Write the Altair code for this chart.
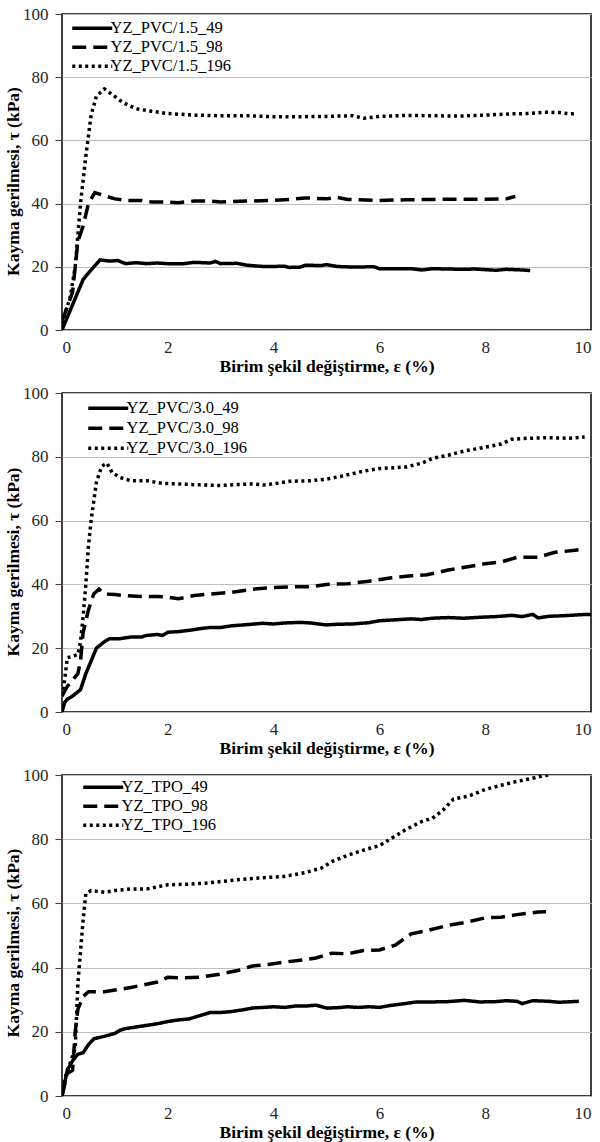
import altair as alt
import pandas as pd

FONT = "Liberation Serif"

X_TICKS = [0, 2, 4, 6, 8, 10]
Y_TICKS = [0, 20, 40, 60, 80, 100]
X_TITLE = "Birim şekil değiştirme, ε (%)"
Y_TITLE = "Kayma gerilmesi, τ (kPa)"

# ---------- Panel 1 : YZ_PVC/1.5 ----------
P1_NAMES = ["YZ_PVC/1.5_49", "YZ_PVC/1.5_98", "YZ_PVC/1.5_196"]
P1_49_X = [0, 0.2, 0.4, 0.55, 0.72, 0.9, 1.05, 1.2, 1.4, 1.6, 1.8, 2.0, 2.3, 2.5, 2.8, 2.9, 3.0, 3.3, 3.5,
           3.8, 4.0, 4.2, 4.3, 4.5, 4.6, 4.9, 5.0, 5.2, 5.5, 5.8, 5.9, 6.0, 6.3, 6.6, 6.8, 7.0, 7.3, 7.6,
           7.8, 8.0, 8.2, 8.4, 8.7, 8.85]
P1_49_Y = [0, 8, 16, 19, 22.2, 21.8, 22, 21, 21.3, 21, 21.2, 21, 21, 21.4, 21.2, 21.7, 21, 21.1, 20.5,
           20.1, 20.1, 20.2, 19.8, 19.9, 20.5, 20.4, 20.7, 20.1, 19.9, 20.0, 20.0, 19.4, 19.4, 19.4, 19,
           19.4, 19.3, 19.2, 19.3, 19.1, 18.9, 19.2, 19.0, 18.8]
P1_98_X = [0, 0.05, 0.2, 0.3, 0.4, 0.5, 0.62, 0.8, 1.0, 1.2, 1.5, 1.7, 2.0, 2.2, 2.5, 2.8, 3.0, 3.5, 4.0,
           4.3, 4.6, 5.0, 5.2, 5.4, 6.0, 6.5, 7.0, 7.5, 8.0, 8.4, 8.57]
P1_98_Y = [3, 5, 12, 28, 33, 40, 43.5, 42.5, 41.5, 41, 41, 40.5, 40.5, 40.3, 40.8, 40.8, 40.5, 40.8, 41,
           41.3, 41.8, 41.5, 42, 41.3, 41, 41.2, 41.3, 41.4, 41.4, 41.5, 42.3]
P1_196_X = [0, 0.05, 0.15, 0.25, 0.3, 0.35, 0.45, 0.55, 0.65, 0.8, 0.95, 1.15, 1.4, 1.7, 2.0, 2.5, 3.0,
            3.5, 4.0, 4.5, 5.0, 5.5, 5.7, 6.0, 6.5, 7.0, 7.5, 8.0, 8.5, 8.8, 9.1, 9.4, 9.6, 9.73]
P1_196_Y = [2, 5, 10, 20, 30, 40, 55, 68, 74, 76.3, 74.5, 72, 70, 69.2, 68.5, 68, 67.8, 67.8, 67.5,
            67.5, 67.6, 67.8, 67, 67.6, 67.9, 67.8, 67.7, 68, 68.4, 68.5, 68.9, 68.8, 68.4, 68.5]

# ---------- Panel 2 : YZ_PVC/3.0 ----------
P2_NAMES = ["YZ_PVC/3.0_49", "YZ_PVC/3.0_98", "YZ_PVC/3.0_196"]
P2_49_X = [0, 0.05, 0.1, 0.2, 0.35, 0.45, 0.55, 0.65, 0.8, 0.9, 1.1, 1.3, 1.5, 1.6, 1.8, 1.9, 2.0, 2.2,
           2.4, 2.6, 2.8, 3.0, 3.2, 3.5, 3.8, 4.0, 4.2, 4.5, 4.7, 5.0, 5.2, 5.5, 5.8, 6.0, 6.3, 6.6, 6.8,
           7.0, 7.3, 7.6, 7.9, 8.2, 8.5, 8.7, 8.9, 9.0, 9.2, 9.5, 9.8, 10.0]
P2_49_Y = [0, 3, 4, 5, 7, 12, 16, 20, 22, 23, 23, 23.5, 23.5, 24, 24.3, 24, 25, 25.2, 25.6, 26.1, 26.5,
           26.5, 27, 27.4, 27.8, 27.6, 27.9, 28.1, 27.9, 27.3, 27.5, 27.6, 28, 28.6, 28.9, 29.2, 29,
           29.4, 29.6, 29.4, 29.7, 29.9, 30.3, 29.9, 30.6, 29.5, 30, 30.2, 30.5, 30.6]
P2_98_X = [0, 0.1, 0.3, 0.35, 0.4, 0.5, 0.6, 0.7, 0.8, 1.0, 1.2, 1.5, 1.8, 2.0, 2.2, 2.5, 2.8, 3.2, 3.6,
           4.0, 4.3, 4.7, 5.0, 5.4, 5.8, 6.2, 6.6, 6.9, 7.3, 7.7, 8.0, 8.3, 8.6, 9.0, 9.3, 9.7, 9.85]
P2_98_Y = [5, 8, 12, 16, 25, 32, 37, 38.5, 37, 36.8, 36.5, 36.2, 36.2, 36, 35.5, 36.5, 37, 37.5, 38.5,
           39, 39.2, 39.3, 40, 40.2, 41, 42, 42.7, 43, 44.5, 45.6, 46.5, 47, 48.5, 48.5, 50, 50.7, 51]
P2_196_X = [0, 0.05, 0.1, 0.2, 0.3, 0.35, 0.4, 0.45, 0.5, 0.55, 0.65, 0.75, 0.85, 0.95, 1.1, 1.3, 1.6,
            1.9, 2.2, 2.6, 3.0, 3.3, 3.6, 3.8, 4.0, 4.3, 4.7, 5.0, 5.3, 5.7, 6.0, 6.5, 6.8, 7.0, 7.3,
            7.6, 8.0, 8.3, 8.5, 8.8, 9.2, 9.6, 9.88]
P2_196_Y = [5, 10, 17, 17.5, 18, 22, 30, 40, 52, 60, 72, 77, 78, 75, 73.5, 72.5, 72.5, 71.7, 71.5, 71.2,
            71, 71.3, 71.5, 71.2, 71.5, 72.3, 72.5, 73, 74, 75.5, 76.3, 76.8, 78, 79.5, 80.5, 81.8, 83,
            84, 85.5, 85.8, 86, 85.8, 86.2]

# ---------- Panel 3 : YZ_TPO ----------
P3_NAMES = ["YZ_TPO_49", "YZ_TPO_98", "YZ_TPO_196"]
P3_49_X = [0, 0.05, 0.1, 0.2, 0.3, 0.4, 0.5, 0.6, 0.8, 1.0, 1.1, 1.2, 1.4, 1.6, 1.8, 2.0, 2.2, 2.4, 2.6,
           2.8, 3.0, 3.2, 3.4, 3.6, 3.8, 4.0, 4.2, 4.4, 4.6, 4.8, 5.0, 5.2, 5.4, 5.6, 5.8, 6.0, 6.2,
           6.4, 6.7, 7.0, 7.3, 7.6, 7.9, 8.2, 8.4, 8.6, 8.7, 8.9, 9.2, 9.4, 9.77]
P3_49_Y = [0, 4, 8, 11, 13, 13.5, 16, 17.8, 18.6, 19.5, 20.5, 21, 21.5, 22, 22.5, 23.2, 23.7, 24, 25,
           26, 26, 26.3, 26.8, 27.4, 27.6, 27.8, 27.6, 28, 28, 28.3, 27.4, 27.5, 27.8, 27.6, 27.8,
           27.6, 28.2, 28.6, 29.3, 29.3, 29.4, 29.8, 29.3, 29.4, 29.7, 29.5, 28.8, 29.7, 29.5, 29.2, 29.5]
P3_98_X = [0, 0.1, 0.2, 0.25, 0.3, 0.4, 0.5, 0.8, 1.0, 1.3, 1.6, 1.8, 2.0, 2.3, 2.6, 3.0, 3.3, 3.6, 3.9,
           4.2, 4.6, 4.8, 5.1, 5.4, 5.7, 6.0, 6.3, 6.6, 6.9, 7.3, 7.6, 8.0, 8.3, 8.6, 9.0, 9.15]
P3_98_Y = [0, 7, 8, 20, 27, 31, 32.5, 32.5, 33, 33.8, 34.8, 35.5, 37, 36.8, 37, 38, 39, 40.5, 41, 41.7,
           42.5, 43, 44.5, 44.3, 45.3, 45.5, 47, 50.5, 51.5, 53.2, 54, 55.5, 55.7, 56.5, 57.3, 57.4]
P3_196_X = [0, 0.05, 0.1, 0.15, 0.25, 0.3, 0.35, 0.4, 0.45, 0.55, 0.8, 1.0, 1.3, 1.6, 2.0, 2.4, 2.7,
            3.0, 3.4, 3.8, 4.2, 4.6, 4.9, 5.1, 5.4, 5.7, 6.0, 6.2, 6.5, 6.8, 7.0, 7.2, 7.4, 7.7, 8.0,
            8.3, 8.6, 8.9, 9.1, 9.2]
P3_196_Y = [0, 5, 8, 10, 15, 35, 45, 55, 63, 64, 63.5, 64, 64.5, 64.5, 65.8, 66, 66.3, 66.8, 67.5, 68,
            68.4, 69.6, 71, 73, 75, 76.6, 78, 80, 83, 85.5, 86.5, 89, 92.5, 93.5, 95.5, 96.8, 98, 99,
            99.8, 100]

DASHES = [[1, 0], [14, 7], [3, 3.5]]


def panel_df(names, xs_list, ys_list):
    rows = []
    for name, xs, ys in zip(names, xs_list, ys_list):
        for i, (x, y) in enumerate(zip(xs, ys)):
            rows.append({"x": x, "y": y, "series": name, "i": i})
    return pd.DataFrame(rows)


def make_panel(df, names, height, legend_x, legend_y, title_shift, row_pad):
    return alt.Chart(df).mark_line(strokeWidth=3.5, color="black", clip=True).encode(
        x=alt.X("x:Q", scale=alt.Scale(domain=[0, 10], nice=False),
                axis=alt.Axis(values=X_TICKS, title=X_TITLE, grid=False, ticks=False,
                              labelPadding=9, titlePadding=2, format="d")),
        y=alt.Y("y:Q", scale=alt.Scale(domain=[0, 100], nice=False),
                axis=alt.Axis(values=Y_TICKS, title=Y_TITLE, grid=True, ticks=True,
                              tickSize=7, labelPadding=7, titlePadding=0,
                              titleY=height / 2 + title_shift, format="d")),
        strokeDash=alt.StrokeDash(
            "series:N",
            scale=alt.Scale(domain=names, range=DASHES),
            legend=alt.Legend(title=None, orient="none", legendX=legend_x, legendY=legend_y,
                              symbolType="M-4,0H4", symbolSize=100, symbolStrokeWidth=3.5,
                              symbolStrokeColor="black", labelOffset=10, padding=0,
                              labelFont=FONT, labelFontSize=16.5, labelColor="black",
                              rowPadding=row_pad, labelLimit=300),
        ),
        order="i:Q",
    ).properties(width=529, height=height)


p1 = make_panel(panel_df(P1_NAMES, [P1_49_X, P1_98_X, P1_196_X], [P1_49_Y, P1_98_Y, P1_196_Y]),
                P1_NAMES, 316, 22, 6, 9, 2)
p2 = make_panel(panel_df(P2_NAMES, [P2_49_X, P2_98_X, P2_196_X], [P2_49_Y, P2_98_Y, P2_196_Y]),
                P2_NAMES, 319, 38, 7, 9, 3)
p3 = make_panel(panel_df(P3_NAMES, [P3_49_X, P3_98_X, P3_196_X], [P3_49_Y, P3_98_Y, P3_196_Y]),
                P3_NAMES, 321, 33, 4, 7, 2)

chart = alt.vconcat(p1, p2, p3, spacing=7).resolve_scale(
    strokeDash="independent"
).resolve_legend(
    strokeDash="independent"
).properties(
    padding={"left": 3, "top": 4, "right": 0, "bottom": 0},
    background="white",
).configure_axis(
    labelFont=FONT, labelFontSize=17, labelColor="#262626",
    titleFont=FONT, titleFontSize=17.5, titleFontWeight="bold", titleColor="black",
    domain=False, tickColor="#404040", gridColor="#c0c0c0", gridWidth=1,
).configure_view(
    stroke="black", strokeWidth=1.5
)

chart.save("out.html", embed_options={"renderer": "svg", "actions": False})
